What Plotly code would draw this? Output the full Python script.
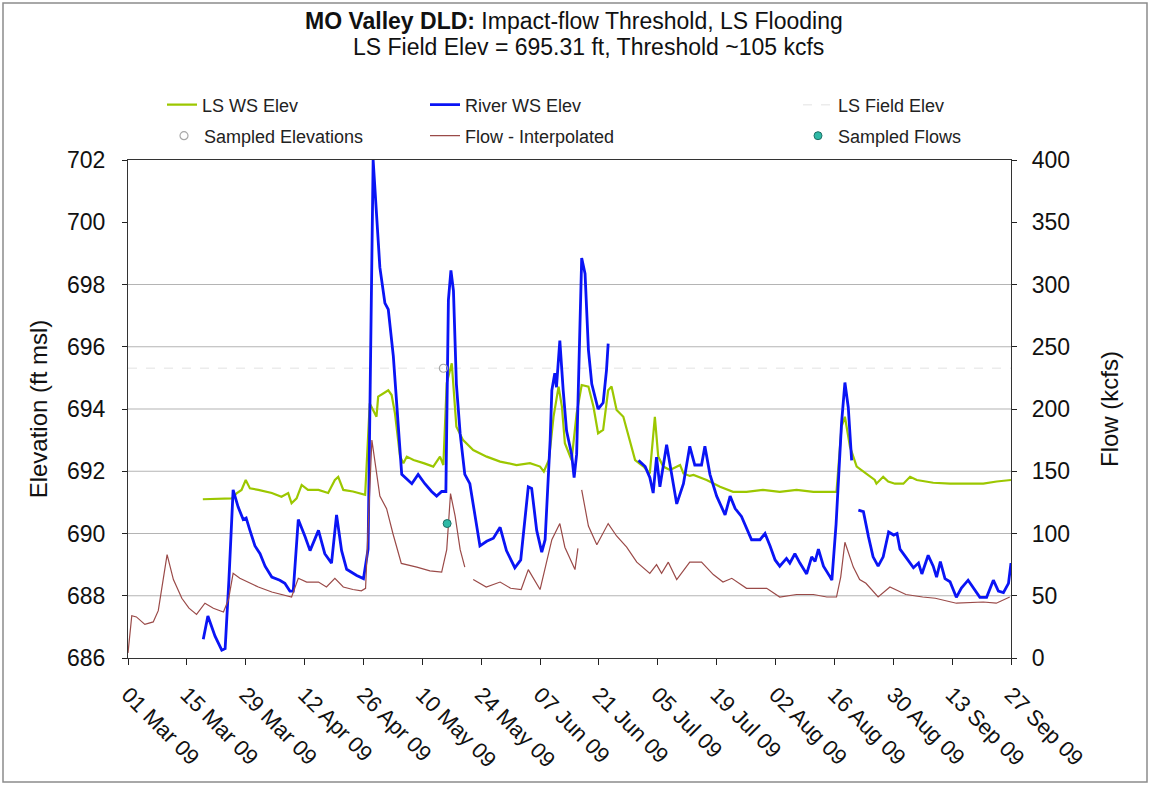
import plotly.graph_objects as go
import pandas as pd

# ---------------- data (days counted from 01 Mar 2009) ----------------
BASE_DATE = "2009-03-01"
END_DATE = "2009-09-27"

flow_day = [0.0, 0.9, 2.0, 4.0, 6.0, 7.2, 9.3, 10.8, 12.8, 14.5, 16.3, 18.3, 20.3, 22.7, 23.9, 25.0,
            26.6, 29.0, 31.0, 34.2, 36.5, 38.9, 40.5, 42.5, 45.3, 47.2, 49.2, 51.2, 53.5, 55.5, 56.5,
            58.0, 59.9, 61.5, 63.0, 65.0, 68.7, 71.8, 74.6, 75.8, 76.7, 77.8, 79.0, 80.1, 81.0,
            82.1, 85.2, 88.5, 91.0, 93.5, 95.2, 98.0, 100.8, 102.7, 103.9, 106.3, 107.0, 107.4,
            107.9, 109.5, 111.5, 114.2, 116.2, 118.6, 121.0, 124.1, 125.7, 126.9, 128.5, 130.5,
            133.6, 136.4, 139.2, 141.5, 143.6, 147.1, 151.9, 155.0, 159.0, 163.0, 166.2, 168.5,
            169.5, 170.5, 172.5, 174.0, 175.5, 178.4, 181.2, 185.0, 189.0, 192.0, 197.0, 203.4,
            206.5, 209.7]
flow_kcfs = [4, 34, 33, 27, 29, 38, 83, 63, 48, 40, 35, 44, 40, 37, 47, 68,
             64, 60, 57, 53, 51, 49, 64, 61, 61, 57, 64, 57, 55, 54, 56,
             175, 130, 120, 100, 76, 73, 70, 69, 87, 132, 114, 87, 73, None,
             63, 57, 61, 56, 55, 71, 55, 95, 108, 89, 71, 88, None,
             135, 106, 91, 108, 98, 89, 77, 68, 75, 68, 77, 63,
             77, 77, 67, 61, 64, 56, 56, 49, 51, 51, 49, 49,
             65, 93, 73, 63, 60, 49, 57, 51, 49, 48, 44, 45,
             44, 49]

river_day = [17.9, 19.0, 20.7, 22.3, 23.1, 24.0, 25.0, 26.2, 27.4, 28.1, 29.0, 30.2, 31.4, 32.6,
             34.2, 36.1, 37.3, 38.5, 39.3, 40.5, 42.1, 43.3, 45.3, 46.8, 48.4, 49.6, 50.8, 52.0,
             54.4, 56.0, 57.1, 57.9, 58.3, 58.9, 59.9, 61.1, 61.9, 63.1, 64.3, 65.1, 66.3, 67.5,
             69.0, 70.6, 72.2, 73.4, 74.6, 75.6, 76.2, 76.8, 77.4, 78.1, 79.0, 80.1, 81.3, 82.5,
             83.7, 85.3, 86.9, 88.5, 90.0, 92.0, 93.4, 95.2, 96.0, 97.2, 98.4, 99.2, 100.4, 100.8,
             101.5, 101.9, 102.7, 103.5, 104.3, 105.5, 106.1, 106.7, 107.5, 107.9, 108.7, 109.5,
             110.3, 111.8, 113.0, 113.8, 114.2, 118.0,
             121.4, 123.0, 124.1, 124.9, 125.7, 126.5, 128.1, 129.3, 130.5, 132.1, 133.6, 134.8,
             136.4, 137.2, 138.4, 140.0, 142.0, 143.2, 144.4, 145.9, 147.1, 148.3, 150.3, 151.5,
             152.7, 153.9, 155.0, 156.6, 157.4, 158.6, 159.8, 161.4, 162.6, 163.4, 164.2, 165.4,
             167.0, 167.4, 168.4, 169.7, 170.5, 171.3, 172.1, 172.9,
             173.7, 174.9, 176.1, 177.2, 178.4, 179.6, 180.9, 182.1, 182.9, 183.6, 185.2, 186.8,
             188.0, 188.8, 190.3, 191.5, 192.3, 193.2, 194.3, 195.5, 197.0, 198.2, 199.8, 201.0,
             202.6, 204.2, 205.8, 207.0, 208.2, 209.4, 210.0]
river_elev = [686.6, 687.35, 686.7, 686.25, 686.3, 688.5, 691.4, 690.85, 690.45, 690.5, 690.1, 689.6, 689.35, 688.95,
              688.6, 688.5, 688.4, 688.15, 688.15, 690.45, 689.9, 689.45, 690.1, 689.35, 689.05, 690.6, 689.45, 688.85,
              688.65, 688.55, 689.5, 699.1, 702.0, 700.7, 698.55, 697.4, 697.2, 695.7, 693.2, 691.9, 691.75, 691.6,
              691.9, 691.6, 691.35, 691.2, 691.35, 691.35, 697.5, 698.45, 697.8, 694.8, 693.2, 691.9, 691.6, 690.55,
              689.6, 689.75, 689.85, 690.2, 689.45, 688.9, 689.15, 691.5, 691.45, 690.1, 689.4, 689.8, 693.0, 694.6,
              695.15, 694.7, 696.2, 694.6, 693.3, 692.55, 691.8, 692.55, 696.75, 698.85, 698.35, 695.9,
              694.8, 694.0, 694.2, 695.25, 696.1, None,
              692.35, 692.15, 691.8, 691.3, 692.45, 691.5, 692.85, 691.9, 690.95, 691.6, 692.8, 692.2,
              692.2, 692.8, 691.9, 691.2, 690.6, 691.2, 690.8, 690.55, 690.2, 689.8, 689.8, 690.0,
              689.6, 689.15, 688.95, 689.2, 689.05, 689.35, 689.05, 688.7, 689.25, 689.1, 689.5, 688.95,
              688.6, 688.5, 690.3, 693.55, 694.85, 694.05, 692.35, None,
              690.75, 690.7, 689.9, 689.25, 688.95, 689.25, 690.05, 689.95, 690.0, 689.5, 689.2, 688.9,
              689.05, 688.7, 689.3, 688.95, 688.6, 689.1, 688.55, 688.45, 687.95, 688.25, 688.5, 688.25,
              687.95, 687.95, 688.5, 688.15, 688.1, 688.4, 689.05]

ls_ws_day = [17.8, 24.7, 25.9, 27.0, 28.0, 29.0, 31.0, 34.2, 36.5, 38.1, 38.9, 40.1, 41.3, 42.8, 45.3,
             47.6, 49.2, 50.0, 51.2, 53.5, 56.4, 57.5, 59.1, 59.5, 60.7, 61.9, 62.7, 63.5, 64.7, 65.5,
             66.3, 67.9, 70.3, 72.6, 74.2, 75.0, 75.8, 77.0, 78.1, 79.7, 82.1, 85.3, 88.5, 92.4, 95.6,
             98.0, 98.9, 100.1, 101.2, 102.4, 103.2, 103.9, 105.5, 106.7, 107.9, 109.5, 110.7, 111.8,
             113.0, 114.2, 115.0, 116.2, 117.8, 119.4, 120.6, 122.6, 124.1, 125.3, 126.1, 127.3, 128.9,
             131.3, 132.1, 133.6, 134.5, 137.6, 140.8, 143.9, 147.1, 151.0, 155.0, 159.0, 163.0, 168.5,
             169.7, 170.5, 171.7, 173.3, 175.0, 177.6, 178.0, 179.6, 180.8, 182.4, 184.4, 186.0, 187.6,
             191.5, 195.5, 199.5, 203.4, 206.6, 210.0]
ls_ws_elev = [691.1, 691.13, 691.3, 691.4, 691.72, 691.45, 691.4, 691.3, 691.18, 691.3, 690.97, 691.13, 691.56, 691.4, 691.4,
              691.3, 691.72, 691.82, 691.4, 691.35, 691.24, 694.18, 693.75, 694.4, 694.5, 694.6, 694.45, 693.85, 692.47, 692.26,
              692.47, 692.36, 692.26, 692.15, 692.47, 692.2, 694.83, 695.47, 693.43, 693.0, 692.68, 692.47, 692.31, 692.2, 692.26,
              692.15, 691.99, 692.36, 693.75, 694.72, 694.07, 692.9, 692.36, 693.86, 694.77, 694.72, 694.07, 693.22,
              693.33, 694.6, 694.72, 693.97, 693.75, 693.0, 692.36, 692.15, 691.93, 693.75, 692.47, 692.15, 692.04,
              692.2, 691.93, 691.85, 691.88, 691.72, 691.5, 691.34, 691.34, 691.4, 691.34, 691.4, 691.34, 691.34,
              693.43, 693.75, 692.79, 692.15, 691.99, 691.72, 691.6, 691.82, 691.67, 691.6, 691.6, 691.82, 691.72,
              691.63, 691.6, 691.6, 691.6, 691.67, 691.72]

ls_field_elev = 695.31
sampled_elev_day = [75.0]
sampled_elev = [695.31]
sampled_flow_day = [75.9]
sampled_flow = [108]

elev_ticks = [686, 688, 690, 692, 694, 696, 698, 700, 702]
elev_grid = [688, 690, 692, 694, 696, 698]
flow_ticks = [0, 50, 100, 150, 200, 250, 300, 350, 400]

title_line1 = "<b>MO Valley DLD:</b> Impact-flow Threshold, LS Flooding"
title_line2 = "LS Field Elev = 695.31 ft, Threshold ~105 kcfs"


def to_dates(days):
    base = pd.Timestamp(BASE_DATE)
    return [base + pd.Timedelta(days=d) for d in days]


FONT = "Liberation Sans, Arial, Helvetica, sans-serif"

# plot area in pixels
W, H = 1150, 785
L, R, T, B = 128, 139, 160, 127
PW, PH = W - L - R, H - T - B


def px_x(px):
    return (px - L) / PW


def px_y(py):
    return (H - B - py) / PH


fig = go.Figure()

fig.add_trace(go.Scatter(
    x=to_dates(flow_day), y=flow_kcfs, yaxis="y2", mode="lines",
    line=dict(color="#9a4a48", width=1.2), name="Flow - Interpolated",
    legend="legend5", connectgaps=False))
fig.add_trace(go.Scatter(
    x=to_dates([0, 210]), y=[ls_field_elev, ls_field_elev], mode="lines",
    line=dict(color="#ececec", width=1.5, dash="dash"), name="LS Field Elev", legend="legend3"))
fig.add_trace(go.Scatter(
    x=to_dates(ls_ws_day), y=ls_ws_elev, mode="lines",
    line=dict(color="#9cc700", width=2.2), name="LS WS Elev", legend="legend"))
fig.add_trace(go.Scatter(
    x=to_dates(river_day), y=river_elev, mode="lines",
    line=dict(color="#0a14f5", width=2.8), name="River WS Elev", legend="legend2",
    connectgaps=False))
fig.add_trace(go.Scatter(
    x=to_dates(sampled_elev_day), y=sampled_elev, mode="markers",
    marker=dict(symbol="circle-open", size=8, color="#a8a8a8", line=dict(width=1.2)),
    name="Sampled Elevations", legend="legend4"))
fig.add_trace(go.Scatter(
    x=to_dates(sampled_flow_day), y=sampled_flow, yaxis="y2", mode="markers",
    marker=dict(symbol="circle", size=8, color="#2fb9a6", line=dict(color="#1f6f66", width=1)),
    name="Sampled Flows", legend="legend6"))

shapes = []
for g in elev_grid:
    shapes.append(dict(type="line", xref="paper", yref="y", x0=0, x1=1, y0=g, y1=g,
                       line=dict(color="#b4b4b4", width=1.2), layer="below"))
# outer frame of the chart
shapes.append(dict(type="rect", xref="paper", yref="paper",
                   x0=px_x(3), x1=px_x(1147), y0=px_y(782), y1=px_y(3),
                   line=dict(color="#8c8c8c", width=1.5)))

annotations = [
    dict(text=title_line1, xref="paper", yref="paper", x=px_x(574), y=px_y(21),
         xanchor="center", yanchor="middle", showarrow=False,
         font=dict(family=FONT, size=23, color="#111")),
    dict(text=title_line2, xref="paper", yref="paper", x=px_x(588), y=px_y(47),
         xanchor="center", yanchor="middle", showarrow=False,
         font=dict(family=FONT, size=23, color="#111")),
]

legend_common = dict(font=dict(family=FONT, size=18, color="#222"), bgcolor="rgba(0,0,0,0)",
                     xanchor="left", yanchor="middle", itemwidth=30, tracegroupgap=0)
leg_pos = {
    "legend": (162, 105), "legend2": (425, 105), "legend3": (798, 105),
    "legend4": (164, 136), "legend5": (425, 136), "legend6": (798, 136),
}
legends = {k: dict(legend_common, x=px_x(v[0]), y=px_y(v[1])) for k, v in leg_pos.items()}

axis_font = dict(family=FONT, size=24, color="#111")
fig.update_layout(
    width=W, height=H,
    margin=dict(l=L, r=R, t=T, b=B),
    paper_bgcolor="white", plot_bgcolor="white",
    showlegend=True,
    xaxis=dict(
        type="date", range=[pd.Timestamp(BASE_DATE), pd.Timestamp(END_DATE)],
        tick0=BASE_DATE, dtick=14 * 86400000, tickformat="%d %b %y", tickangle=45,
        ticks="outside", ticklen=6, tickcolor="#222", showgrid=False, zeroline=False,
        showline=True, linecolor="#333", linewidth=1.2, mirror=True, ticklabelstandoff=8,
        tickfont=dict(family=FONT, size=22, color="#111")),
    yaxis=dict(
        range=[686, 702], tickvals=elev_ticks, ticks="outside", ticklen=5, tickcolor="#222",
        showgrid=False, zeroline=False, showline=True, linecolor="#333", linewidth=1.2,
        ticklabelstandoff=12,
        tickfont=dict(family=FONT, size=23, color="#111"),
        title=dict(text="Elevation (ft msl)", font=axis_font, standoff=12)),
    yaxis2=dict(
        range=[0, 400], tickvals=flow_ticks, overlaying="y", side="right", anchor="x",
        ticks="outside", ticklen=5, tickcolor="#222", showgrid=False, zeroline=False,
        showline=True, linecolor="#333", linewidth=1.2, ticklabelstandoff=10,
        tickfont=dict(family=FONT, size=23, color="#111"),
        title=dict(text="Flow (kcfs)", font=axis_font, standoff=32)),
    shapes=shapes,
    annotations=annotations,
    **legends,
)

fig.write_html("out.html", config={"displayModeBar": False},
               post_script="document.body.style.margin='0';")
